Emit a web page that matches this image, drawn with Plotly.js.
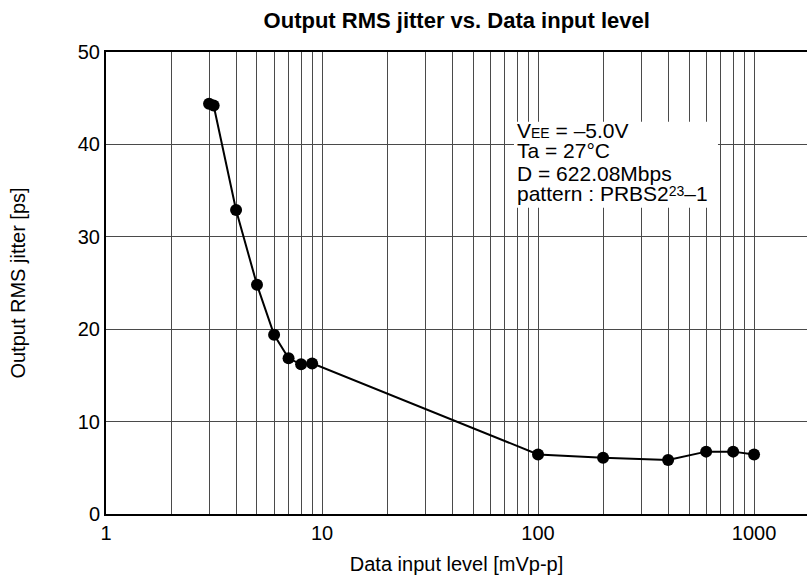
<!DOCTYPE html>
<html>
<head>
<meta charset="utf-8">
<script src="https://cdn.plot.ly/plotly-3.0.1.min.js"></script>
<style>html,body{margin:0;padding:0;background:#fff;}#chart{width:807px;height:584px;}</style>
</head>
<body>
<div id="chart"></div>
<script>
// Data
const inputLevel = [3, 3.15, 4, 5, 6, 7, 8, 9, 100, 200, 400, 600, 800, 1000]; // mVp-p
const jitter = [44.4, 44.2, 32.9, 24.8, 19.4, 16.85, 16.2, 16.3, 6.45, 6.1, 5.85, 6.75, 6.75, 6.45]; // ps
const xTickVals = [1, 10, 100, 1000];
const xTickText = ['1', '10', '100', '1000'];
const xMinorVals = [2,3,4,5,6,7,8,9,20,30,40,50,60,70,80,90,200,300,400,500,600,700,800,900];
const noteLines = [
  'V<span style="font-size:14px">EE</span> = \u20135.0V',
  'Ta = 27\u00b0C',
  'D = 622.08Mbps',
  'pattern : PRBS2<span style="font-size:14px;baseline-shift:5px">23</span>\u20131'
];

const FONT = 'Liberation Sans, Arial, Helvetica, sans-serif';
const gridCol = '#4a4a4a';

const trace = {
  x: inputLevel, y: jitter, type: 'scatter', mode: 'lines+markers',
  line: {color: '#000', width: 2},
  marker: {color: '#000', size: 12},
  hoverinfo: 'skip'
};

// plot area: top 52, bottom 514 (height 462); line centres at 131,152,174,195 px
const lineY = [0.831, 0.786, 0.738, 0.693];
const annotations = noteLines.map((t, i) => ({
  xref: 'paper', yref: 'paper', x: 0.583, y: lineY[i],
  xanchor: 'left', yanchor: 'middle', showarrow: false, align: 'left',
  text: t, font: {family: FONT, size: 21, color: '#000'}
}));

const layout = {
  width: 807, height: 584,
  margin: {l: 106, r: 0, t: 52, b: 70},
  paper_bgcolor: '#fff', plot_bgcolor: '#fff',
  showlegend: false,
  font: {family: FONT, color: '#000'},
  title: {text: 'Output RMS jitter vs. Data input level', font: {family: FONT, size: 22, color: '#000', weight: 'bold'}, x: 0.566, xanchor: 'center', y: 0.965, yanchor: 'middle'},
  xaxis: {
    type: 'log', range: [0, 3.245],
    tickmode: 'array', tickvals: xTickVals, ticktext: xTickText,
    ticks: '', tickfont: {size: 20, family: FONT, color: '#000'},
    showgrid: true, gridcolor: gridCol, gridwidth: 1,
    minor: {tickmode: 'array', tickvals: xMinorVals, showgrid: true, gridcolor: gridCol, gridwidth: 1, ticks: ''},
    showline: true, linecolor: '#000', linewidth: 2, mirror: true,
    zeroline: false,
    title: {text: 'Data input level [mVp-p]', font: {size: 20, family: FONT, color: '#000'}, standoff: 14}
  },
  yaxis: {
    range: [0, 50], dtick: 10, tick0: 0,
    ticks: '', tickfont: {size: 20, family: FONT, color: '#000'},
    showgrid: true, gridcolor: gridCol, gridwidth: 1,
    showline: true, linecolor: '#000', linewidth: 2, mirror: false,
    zeroline: false,
    title: {text: 'Output RMS jitter [ps]', font: {size: 20, family: FONT, color: '#000'}, standoff: 47}
  },
  shapes: [{
    type: 'rect', xref: 'paper', yref: 'paper', x0: 0.582, x1: 0.873, y0: 0.663, y1: 0.849,
    fillcolor: '#fff', line: {width: 0}, layer: 'above'
  }],
  annotations: annotations
};

Plotly.newPlot('chart', [trace], layout, {staticPlot: true, displayModeBar: false});
</script>
</body>
</html>
